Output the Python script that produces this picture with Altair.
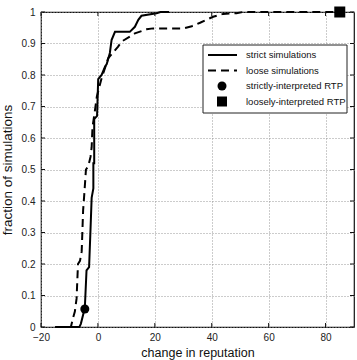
import altair as alt
import pandas as pd

# strict simulations (polyline vertices)
strict_x = [-15, -6.5, -6.0, -4.6, -4.0, -3.1, -2.6, -2.2, -1.6, -1.6, -1.3, -1.3, -0.3, 0.1, 1.3, 2.5, 3.1, 4.2, 4.8, 6.0, 11.2, 13.0, 14.2, 15.3, 20.6, 22.0, 25.0]
strict_y = [0, 0, 0.01, 0.06, 0.18, 0.19, 0.31, 0.41, 0.44, 0.52, 0.52, 0.66, 0.67, 0.787, 0.80, 0.826, 0.835, 0.87, 0.911, 0.937, 0.937, 0.953, 0.975, 0.988, 0.996, 1.0, 1.0]

# loose simulations
loose_x = [-15, -9.5, -8.7, -8.1, -7.5, -7.0, -6.3, -5.7, -5.2, -4.8, -4.2, -3.4, -2.6, -2.2, -1.9, -1.0, -0.4, 0.5, 1.3, 3.6, 7.1, 8.3, 11.2, 13.0, 17.1, 19.4, 30.0, 33.0, 35.9, 40.5, 44.0, 48.7, 51.0, 86.0]
loose_y = [0, 0, 0.03, 0.049, 0.09, 0.2, 0.21, 0.24, 0.37, 0.42, 0.50, 0.51, 0.54, 0.57, 0.635, 0.69, 0.73, 0.763, 0.79, 0.853, 0.89, 0.906, 0.922, 0.932, 0.945, 0.948, 0.948, 0.955, 0.966, 0.985, 0.994, 0.996, 1.0, 1.0]

# RTP markers
strict_rtp = (-4.6, 0.057)
loose_rtp = (85.0, 1.0)

x_ticks = [-20, 0, 20, 40, 60, 80]
y_ticks = [0, 0.1, 0.2, 0.3, 0.4, 0.5, 0.6, 0.7, 0.8, 0.9, 1.0]

legend_labels = ["strict simulations", "loose simulations", "strictly-interpreted RTP", "loosely-interpreted RTP"]

W, H = 313, 315
FONT = "Liberation Sans"

strict_df = pd.DataFrame({"x": strict_x, "y": strict_y, "o": range(len(strict_x))})
loose_df = pd.DataFrame({"x": loose_x, "y": loose_y, "o": range(len(loose_x))})
circ_df = pd.DataFrame({"x": [strict_rtp[0]], "y": [strict_rtp[1]]})
sq_df = pd.DataFrame({"x": [loose_rtp[0]], "y": [loose_rtp[1]]})
xt_df = pd.DataFrame({"x": x_ticks})
yt_df = pd.DataFrame({"y": y_ticks})

xscale = alt.Scale(domain=[-20, 90], nice=False)
yscale = alt.Scale(domain=[0, 1], nice=False)

xaxis = alt.Axis(values=x_ticks, title="change in reputation", grid=True, gridDash=[1, 2],
                 gridColor="#999", ticks=False, domain=False, labelFont=FONT, labelFontSize=10,
                 labelColor="#222", labelPadding=5, labelOverlap=False, titleFont=FONT,
                 titleFontSize=12.5, titleFontWeight="normal", titleColor="#111", titlePadding=4,
                 labelFlush=False)
yaxis = alt.Axis(values=y_ticks, title="fraction of simulations", grid=True, gridDash=[1, 2],
                 gridColor="#999", ticks=False, domain=False, format="~g", labelFont=FONT,
                 labelFontSize=10, labelColor="#222", labelPadding=6, labelOverlap=False,
                 titleFont=FONT, titleFontSize=13.5, titleFontWeight="normal", titleColor="#111",
                 titlePadding=7)

X = lambda: alt.X("x:Q", scale=xscale, axis=xaxis)
Y = lambda: alt.Y("y:Q", scale=yscale, axis=yaxis)

strict_line = alt.Chart(strict_df).mark_line(color="black", strokeWidth=2).encode(
    x=X(), y=Y(), order="o:Q")
loose_line = alt.Chart(loose_df).mark_line(color="black", strokeWidth=2, strokeDash=[8, 5]).encode(
    x=X(), y=Y(), order="o:Q")
circ = alt.Chart(circ_df).mark_point(shape="circle", filled=True, color="black", size=81, opacity=1).encode(
    x=X(), y=Y())
sq = alt.Chart(sq_df).mark_point(shape="square", filled=True, color="black", size=121, opacity=1).encode(
    x=X(), y=Y())

tick_b = alt.Chart(xt_df).mark_rule(color="#111", strokeWidth=1).encode(
    x=X(), y=alt.value(H), y2=alt.value(H - 4))
tick_t = alt.Chart(xt_df).mark_rule(color="#111", strokeWidth=1).encode(
    x=X(), y=alt.value(0), y2=alt.value(4))
tick_l = alt.Chart(yt_df).mark_rule(color="#111", strokeWidth=1).encode(
    y=Y(), x=alt.value(0), x2=alt.value(4))
tick_r = alt.Chart(yt_df).mark_rule(color="#111", strokeWidth=1).encode(
    y=Y(), x=alt.value(W), x2=alt.value(W - 4))

# legend (drawn manually)
lx0, lx1, ly0, ly1 = 162, 306, 33, 101
rows = [43, 58.5, 74, 89.5]
one = pd.DataFrame({"a": [0]})
leg_box = alt.Chart(one).mark_rect(fill="white", stroke="#222", strokeWidth=1).encode(
    x=alt.value(lx0), x2=alt.value(lx1), y=alt.value(ly0), y2=alt.value(ly1))
leg_solid = alt.Chart(one).mark_rule(color="black", strokeWidth=2).encode(
    x=alt.value(167), x2=alt.value(196), y=alt.value(rows[0]))
leg_dash = alt.Chart(one).mark_rule(color="black", strokeWidth=2, strokeDash=[8, 5]).encode(
    x=alt.value(167), x2=alt.value(196), y=alt.value(rows[1]))
leg_circ = alt.Chart(one).mark_point(shape="circle", filled=True, color="black", size=81, opacity=1).encode(
    x=alt.value(181), y=alt.value(rows[2]))
leg_sq = alt.Chart(one).mark_point(shape="square", filled=True, color="black", size=100, opacity=1).encode(
    x=alt.value(181), y=alt.value(rows[3]))
leg_text = [
    alt.Chart(one).mark_text(text=lab, align="left", baseline="middle", font=FONT, fontSize=9.5,
                             color="#111").encode(x=alt.value(205), y=alt.value(r))
    for lab, r in zip(legend_labels, rows)
]

chart = alt.layer(
    strict_line, loose_line, circ, sq, tick_b, tick_t, tick_l, tick_r,
    leg_box, leg_solid, leg_dash, leg_circ, leg_sq, *leg_text
).properties(
    width=W, height=H,
    autosize=alt.AutoSizeParams(type="none"),
    padding={"left": 41, "top": 12, "right": 3, "bottom": 33},
    background="white",
).configure_view(stroke="#111", strokeWidth=1.2).configure_axis(labelOverlap=False)

chart.save("out.html", embed_options={"renderer": "svg", "actions": False})
